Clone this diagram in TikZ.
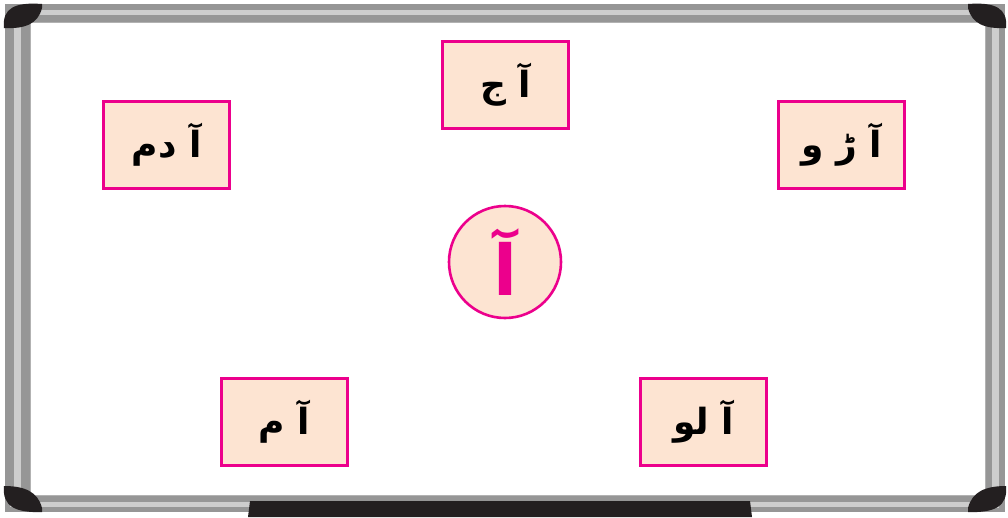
\documentclass[tikz,border=0pt]{standalone}
\usepackage{fontspec}
\newfontfamily\arabicfont[Script=Arabic]{DejaVu Sans}
\TeXXeTstate=1
\definecolor{mag}{RGB}{236,0,140}
\definecolor{peach}{RGB}{253,228,210}
\definecolor{frameg}{RGB}{150,150,150}
\definecolor{framel}{RGB}{205,205,205}
\definecolor{cornerk}{RGB}{35,31,32}
\tikzset{
  wordbox/.style={draw=mag, line width=3pt, fill=peach, minimum width=126pt, minimum height=87pt, inner sep=0pt, font=\arabicfont\bfseries\fontsize{36}{40}\selectfont},
  letterc/.style={circle, draw=mag, line width=2.6pt, fill=peach, minimum size=112pt, inner sep=0pt, text=mag, font=\arabicfont\bfseries\fontsize{70}{76}\selectfont},
  corner/.style={fill=cornerk}
}
\begin{document}
\begin{tikzpicture}[x=1pt,y=-1pt]
\useasboundingbox (0,0) rectangle (1008,517);
\fill[white] (0,0) rectangle (1008,517);
% frame bars
\fill[frameg] (5,4) rectangle (1005,512);
\fill[white] (30,22) rectangle (985,495);
% lighter streaks
\draw[framel, line width=5pt] (10,12) -- (998,12);
\draw[framel, line width=5pt] (10,504) -- (998,504);
\draw[framel, line width=7pt] (17,10) -- (17,508);
\draw[framel, line width=7pt] (995,10) -- (995,508);
\draw[gray!60, line width=1pt] (30,22) rectangle (985,495);
% corners
\fill[corner] (4,28) .. controls (2,8) and (15,2) .. (42,4) -- (42,8) .. controls (38,24) and (25,29) .. (4,28) -- cycle;
\fill[corner] (1006,28) .. controls (1008,8) and (995,2) .. (968,4) -- (968,8) .. controls (972,24) and (985,29) .. (1006,28) -- cycle;
\fill[corner] (4,486) .. controls (2,506) and (15,513) .. (42,512) -- (42,508) .. controls (38,492) and (25,486) .. (4,486) -- cycle;
\fill[corner] (1006,486) .. controls (1008,506) and (995,513) .. (968,512) -- (968,508) .. controls (972,492) and (985,486) .. (1006,486) -- cycle;
% tray
\fill[cornerk] (248,517) -- (250,501) -- (750,501) -- (752,517) -- cycle;
% boxes
\node[wordbox] (aj) at (505.5,85) {\beginR آ ج\endR};
\node[wordbox] (adam) at (166.5,145) {\beginR آ دم\endR};
\node[wordbox] (arw) at (841.5,145) {\beginR آ ڑ و\endR};
\node[wordbox] (aam) at (284.5,422) {\beginR آ م\endR};
\node[wordbox] (aalu) at (703.5,422) {\beginR آ لو\endR};
\node[letterc] (alif) at (505,262) {\beginR آ\endR};
\end{tikzpicture}
\end{document}
